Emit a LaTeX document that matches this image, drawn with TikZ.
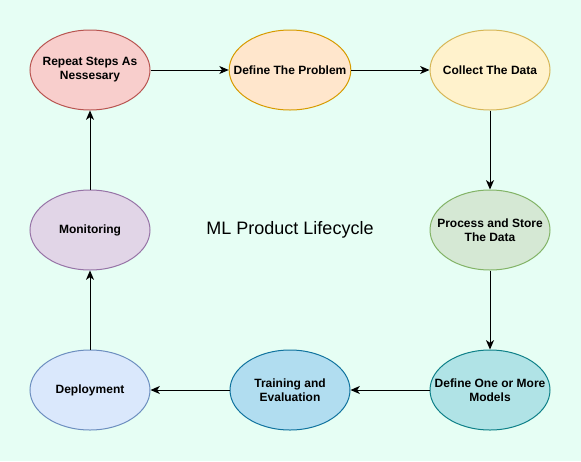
\documentclass[tikz,border=0pt]{standalone}
\usepackage{fontspec}
\setmainfont{Liberation Sans}
\usetikzlibrary{arrows.meta,shapes.geometric}
\definecolor{bg}{RGB}{230, 254, 244}
\definecolor{red_f}{HTML}{F8CECC}\definecolor{red_d}{HTML}{B85450}
\definecolor{org_f}{HTML}{FFE6CC}\definecolor{org_d}{HTML}{D79B00}
\definecolor{yel_f}{HTML}{FFF2CC}\definecolor{yel_d}{HTML}{D6B656}
\definecolor{grn_f}{HTML}{D5E8D4}\definecolor{grn_d}{HTML}{82B366}
\definecolor{tea_f}{HTML}{B0E3E6}\definecolor{tea_d}{HTML}{0E8088}
\definecolor{cya_f}{HTML}{B1DDF0}\definecolor{cya_d}{HTML}{10739E}
\definecolor{blu_f}{HTML}{DAE8FC}\definecolor{blu_d}{HTML}{6C8EBF}
\definecolor{pur_f}{HTML}{E1D5E7}\definecolor{pur_d}{HTML}{9673A6}
\tikzstyle{st}=[ellipse,line width=0.75pt,inner xsep=-10pt,inner ysep=0pt,align=center,
  minimum width=90pt,minimum height=60pt,font=\fontsize{9}{10.5}\selectfont\bfseries]
\tikzstyle{ar}=[line width=0.75pt,-{Stealth[length=7pt,width=6pt,inset=2pt]}]

\begin{document}
\begin{tikzpicture}[x=0.75pt,y=-0.75pt]
        \fill[bg] (0,0) rectangle (581,461);
        \useasboundingbox (0,0) rectangle (581,461);
        \node[st,fill=red_f,draw=red_d] (rep) at (90,70) {Repeat Steps As\\Nessesary};
        \node[st,fill=org_f,draw=org_d] (prob) at (290,70) {Define The Problem};
        \node[st,fill=yel_f,draw=yel_d] (coll) at (490,70) {Collect The Data};
        \node[st,fill=grn_f,draw=grn_d] (proc) at (490,230) {Process and Store\\The Data};
        \node[st,fill=tea_f,draw=tea_d] (mod) at (490,390) {Define One or More\\Models};
        \node[st,fill=cya_f,draw=cya_d] (train) at (290,390) {Training and\\Evaluation};
        \node[st,fill=blu_f,draw=blu_d] (dep) at (90,390) {Deployment};
        \node[st,fill=pur_f,draw=pur_d] (mon) at (90,230) {Monitoring};
        \node[font=\fontsize{13.5}{16}\selectfont] (title) at (290,230) {ML Product Lifecycle};
        \draw[ar] (rep) to (prob);
        \draw[ar] (prob) to (coll);
        \draw[ar] (coll) to (proc);
        \draw[ar] (proc) to (mod);
        \draw[ar] (mod) to (train);
        \draw[ar] (train) to (dep);
        \draw[ar] (dep) to (mon);
        \draw[ar] (mon) to (rep);
    \end{tikzpicture}
\end{document}
